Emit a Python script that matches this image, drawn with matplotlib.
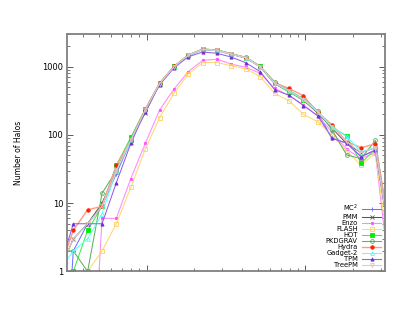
import matplotlib
matplotlib.use("Agg")
import matplotlib.pyplot as plt
import numpy as np
from matplotlib.ticker import LogLocator, NullFormatter, FixedLocator

# bin centres (log10 of halo mass), last and first bins fall just outside the axes
log_mass = [11.447, 11.538, 11.628, 11.719, 11.809, 11.900, 11.991, 12.081,
            12.172, 12.262, 12.353, 12.444, 12.534, 12.625, 12.715, 12.806,
            12.897, 12.987, 13.078, 13.168, 13.259, 13.350, 13.440, 13.531]

TINY = 1e-3  # empty bins, drawn below the axis

mc2 = [TINY, 2, 5, 9, 27, 82, 225, 550, 990, 1450, 1780, 1720, 1510, 1340, 990,
       560, 430, 320, 210, 89, 76, 48, 60, 3]
pmm = [1, 3, 5, 10, 30, 85, 210, 560, 1000, 1470, 1800, 1740, 1520, 1350, 1000,
       570, 440, 330, 210, 125, 75, 55, 65, 3]
enzo = [TINY, TINY, TINY, 6, 6, 23, 75, 232, 470, 846, 1240, 1285, 1090, 980, 800,
        480, 380, 275, 190, 110, 62, 45, 55, 0.8]
flash = [TINY, TINY, 1, 2, 5, 17, 62, 178, 410, 780, 1150, 1150, 1030, 930, 715,
         405, 315, 200, 156, 100, 58, 36, 54, 1.5]
hot = [TINY, 1, 4, 9, 36, 92, 240, 575, 1010, 1480, 1810, 1760, 1540, 1360, 1010,
       580, 420, 330, 215, 130, 97, 38.5, 62, 3]
pkdgrav = [2, 2, 1, 14, 30, 88, 235, 570, 1010, 1490, 1820, 1760, 1550, 1370, 1020,
           600, 450, 340, 225, 118, 51, 45, 83, 3.5]
hydra = [1, 4, 8, 9, 36, 82, 235, 570, 1010, 1480, 1790, 1740, 1540, 1360, 1000,
         580, 480, 375, 215, 140, 80, 65, 74, 4]
gadget2 = [1, 2, 3, 7, 30, 80, 225, 555, 990, 1460, 1790, 1730, 1520, 1350, 1000,
           575, 445, 335, 220, 130, 95, 57, 65, 3]
tpm = [1, 5, 5, 5, 20, 75, 220, 540, 960, 1400, 1640, 1570, 1380, 1140, 845,
       460, 380, 270, 190, 89, 76, 48, 60, 3]
treepm = [1, 3, 5, 9, 30, 85, 230, 560, 1000, 1470, 1790, 1730, 1520, 1350, 1000,
          570, 440, 330, 215, 130, 80, 55, 65, 3]

names = ["MC$^2$", "PMM", "Enzo", "FLASH", "HOT", "PKDGRAV", "Hydra",
         "Gadget-2", "TPM", "TreePM"]
series = [mc2, pmm, enzo, flash, hot, pkdgrav, hydra, gadget2, tpm, treepm]
line_cols = ["#7070ff", "#555555", "#ff88ff", "#ffd870", "#40ee40", "#60b060",
             "#ff9a88", "#60ffff", "#9060e8", "#e4c8c8"]
mark_cols = ["#6a6aff", "#555555", "#ff50ff", "#ffd060", "#00ee00", "#50b050",
             "#ff2000", "#50ffff", "#7030d0", "#e0c0c0"]
markers = ["+", "x", "s", "s", "s", "o", "o", "^", "^", "v"]
filled = [True, True, True, False, True, False, True, False, True, False]
msizes = [3.0, 2.6, 2.0, 2.8, 2.3, 2.7, 2.5, 2.7, 2.3, 2.7]

fig = plt.figure(figsize=(4.09, 3.16), dpi=100)
ax = fig.add_axes([0.1645, 0.141, 0.7765, 0.751])

x = 10 ** np.array(log_mass)
for i in range(len(series)):
    lw = 1.0 if names[i] == "Hydra" else 0.75
    ax.plot(x, series[i], color=line_cols[i], lw=lw, marker=markers[i],
            ms=msizes[i], mew=0.6, mec=mark_cols[i],
            mfc=mark_cols[i] if filled[i] else "none", label=names[i])

ax.set_xscale("log")
ax.set_yscale("log")
ax.set_xlim(10 ** 11.5, 10 ** 13.5)
ax.set_ylim(1, 3000)

ax.xaxis.set_major_locator(FixedLocator([1e12, 1e13]))
ax.xaxis.set_minor_locator(LogLocator(base=10, subs=np.arange(2, 10)))
ax.xaxis.set_major_formatter(NullFormatter())
ax.xaxis.set_minor_formatter(NullFormatter())
ax.yaxis.set_major_locator(FixedLocator([1, 10, 100, 1000]))
ax.yaxis.set_minor_locator(LogLocator(base=10, subs=np.arange(2, 10)))
ax.yaxis.set_minor_formatter(NullFormatter())
ax.set_yticklabels(["1", "10", "100", "1000"])

ax.tick_params(which="both", direction="in", top=True, right=True,
               color="#404040", labelsize=6, pad=3)
ax.tick_params(which="major", length=4, width=0.6)
ax.tick_params(which="minor", length=2, width=0.5)
for s in ax.spines.values():
    s.set_color("#808080")
    s.set_linewidth(1.3)

ax.set_ylabel("Number of Halos", fontsize=5.5, labelpad=14)

leg = ax.legend(loc="lower right", frameon=False, fontsize=4.9, markerfirst=False,
                handlelength=2.9, handletextpad=0.6, labelspacing=0.0,
                borderaxespad=0.3, borderpad=0.2)

fig.savefig("out.png", dpi=100)
